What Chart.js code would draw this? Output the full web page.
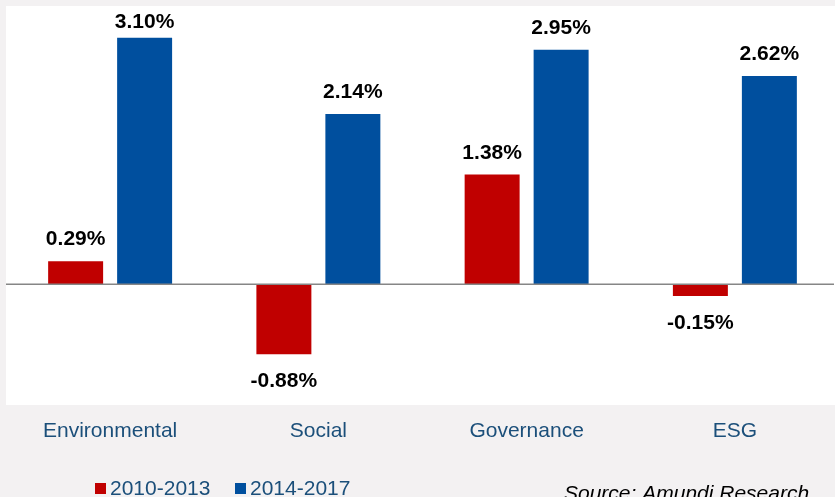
<!DOCTYPE html>
<html>
<head>
<meta charset="utf-8">
<script src="https://cdn.jsdelivr.net/npm/chart.js@4.4.1/dist/chart.umd.min.js"></script>
<style>
  html, body { margin: 0; padding: 0; background: #f3f1f2; overflow: hidden; width: 835px; height: 497px; }
  #wrap { position: absolute; left: 0; top: 0; width: 840px; height: 497px; }
</style>
</head>
<body>
<div id="wrap"><canvas id="c" width="840" height="497"></canvas></div>
<script>
const categories = ["Environmental", "Social", "Governance", "ESG"];
const seriesNames = ["2010-2013", "2014-2017"];
const values2010_2013 = [0.29, -0.88, 1.38, -0.15];
const values2014_2017 = [3.10, 2.14, 2.95, 2.62];
const sourceText = "Source: Amundi Research";

const RED = "#c00000";
const BLUE = "#004f9e";
const TEXT_BLUE = "#1b4f7a";

const whiteArea = {
  id: "whiteArea",
  beforeDraw(chart) {
    const { ctx, chartArea } = chart;
    ctx.save();
    ctx.fillStyle = "#ffffff";
    ctx.fillRect(chartArea.left, chartArea.top, chartArea.right - chartArea.left, chartArea.bottom - chartArea.top);
    ctx.restore();
  }
};

const zeroLine = {
  id: "zeroLine",
  afterDatasetsDraw(chart) {
    const { ctx, chartArea, scales } = chart;
    const y = scales.y.getPixelForValue(0);
    ctx.save();
    ctx.strokeStyle = "#868686";
    ctx.lineWidth = 1.5;
    ctx.beginPath();
    ctx.moveTo(chartArea.left, y);
    ctx.lineTo(chartArea.right - 5, y);
    ctx.stroke();
    ctx.restore();
  }
};

const valueLabels = {
  id: "valueLabels",
  afterDatasetsDraw(chart) {
    const { ctx, chartArea } = chart;
    ctx.save();
    ctx.font = "bold 21px 'Liberation Sans', Arial, sans-serif";
    ctx.fillStyle = "#000000";
    ctx.textAlign = "center";
    ctx.textBaseline = "alphabetic";
    chart.data.datasets.forEach((ds, di) => {
      const meta = chart.getDatasetMeta(di);
      meta.data.forEach((bar, i) => {
        const v = ds.data[i];
        const txt = v.toFixed(2) + "%";
        let y;
        if (v >= 0) {
          y = Math.max(bar.y - 16, chartArea.top + 22);
        } else {
          y = bar.y + 33;
        }
        ctx.fillText(txt, bar.x, y);
      });
    });
    ctx.restore();
  }
};

const customLegend = {
  id: "customLegend",
  afterDraw(chart) {
    const { ctx } = chart;
    ctx.save();
    ctx.font = "21px 'Liberation Sans', Arial, sans-serif";
    ctx.textBaseline = "alphabetic";
    ctx.textAlign = "left";
    const starts = [95, 235];
    chart.data.datasets.forEach((ds, di) => {
      const x = starts[di];
      ctx.fillStyle = ds.backgroundColor;
      ctx.fillRect(x, 483, 11, 11);
      ctx.fillStyle = TEXT_BLUE;
      ctx.fillText(ds.label, x + 15, 495);
    });
    ctx.font = "italic 21px 'Liberation Sans', Arial, sans-serif";
    ctx.fillStyle = "#000000";
    ctx.fillText(sourceText, 564, 500);
    ctx.restore();
  }
};

new Chart(document.getElementById("c"), {
  type: "bar",
  data: {
    labels: categories,
    datasets: [
      { label: seriesNames[0], data: values2010_2013, backgroundColor: RED, borderWidth: 0 },
      { label: seriesNames[1], data: values2014_2017, backgroundColor: BLUE, borderWidth: 0 }
    ]
  },
  options: {
    responsive: false,
    animation: false,
    devicePixelRatio: 1,
    layout: { padding: { left: 6, right: 1, top: 6, bottom: 0 } },
    datasets: { bar: { categoryPercentage: 0.6625, barPercentage: 0.797 } },
    plugins: { legend: { display: false }, tooltip: { enabled: false } },
    scales: {
      x: {
        grid: { display: false, drawTicks: false },
        border: { display: false },
        ticks: {
          color: TEXT_BLUE,
          font: { family: "'Liberation Sans', Arial, sans-serif", size: 21 },
          padding: 14,
          maxRotation: 0,
          autoSkip: false
        },
        afterFit(scale) { scale.height = 92; }
      },
      y: {
        min: -1.52,
        max: 3.5,
        grid: { display: false, drawTicks: false },
        border: { display: false },
        ticks: { display: false },
        afterFit(scale) { scale.width = 0; }
      }
    }
  },
  plugins: [whiteArea, zeroLine, valueLabels, customLegend]
});
</script>
</body>
</html>
